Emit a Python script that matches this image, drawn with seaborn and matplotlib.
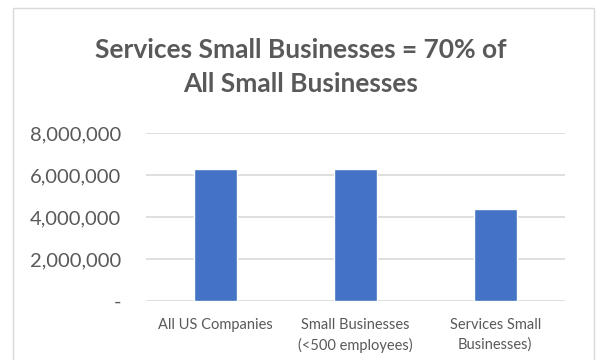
import matplotlib
matplotlib.use("Agg")
import matplotlib.pyplot as plt
import seaborn as sns
import pandas as pd
from matplotlib.patches import Rectangle

categories = ["All US Companies", "Small Businesses\n(<500 employees)", "Services Small\nBusinesses)"]
values = [6300000, 6270000, 4400000]
yticks = [0, 2000000, 4000000, 6000000, 8000000]
ytick_labels = ["-", "2,000,000", "4,000,000", "6,000,000", "8,000,000"]
title = "Services Small Businesses = 70% of\nAll Small Businesses"

sns.set_theme(style="white")
plt.rcParams["font.family"] = ["Lato", "DejaVu Sans"]

df = pd.DataFrame({"cat": categories, "val": values})

fig = plt.figure(figsize=(6.02, 3.6), dpi=100)
ax = fig.add_axes([146/602, 1-301/360, (565-146)/602, (301-133)/360])

sns.barplot(data=df, x="cat", y="val", color="#4472C4", width=0.31, ax=ax, saturation=1)

ax.set_ylim(0, 8000000)
ax.set_xlim(-0.5, 2.5)
ax.set_yticks(yticks)
ax.set_yticklabels(ytick_labels)
ax.yaxis.grid(True, color="#D9D9D9", linewidth=1.2)
ax.set_axisbelow(True)
for s in ax.spines.values():
    s.set_visible(False)
ax.set_xlabel("")
ax.set_ylabel("")
ax.tick_params(axis="y", length=0, pad=18, labelsize=14.5, labelcolor="#595959")
ax.tick_params(axis="x", length=0, pad=12, labelsize=10.5, labelcolor="#595959")
for lbl in ax.get_xticklabels():
    lbl.set_linespacing(1.5)

fig.text(0.5, 1-67/360, title, ha="center", va="center", fontsize=19, fontweight="bold",
         color="#595959", linespacing=1.55)

fig.patches.append(Rectangle((13/602, -0.1), (594-13)/602, 1.1 - 8/360, transform=fig.transFigure,
                             fill=False, edgecolor="#D9D9D9", linewidth=1))

fig.savefig("out.png", dpi=100)
